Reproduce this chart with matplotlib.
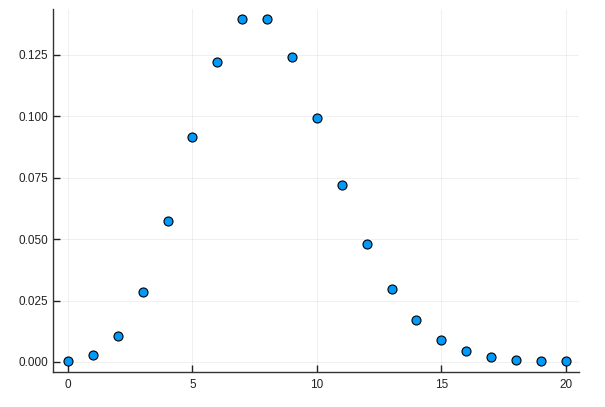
import numpy as np
import matplotlib.pyplot as plt

plt.rcParams['font.family'] = ['Liberation Sans', 'DejaVu Sans']

# values
x = list(range(0, 21))
y = [0.0003, 0.0027, 0.0107, 0.0286, 0.0573, 0.0916, 0.1221, 0.1396, 0.1396,
     0.1241, 0.0993, 0.0722, 0.0481, 0.0296, 0.0169, 0.0090, 0.0045, 0.0021,
     0.0009, 0.0004, 0.0002]
xticks = [0, 5, 10, 15, 20]
yticks = [0.000, 0.025, 0.050, 0.075, 0.100, 0.125]

fig = plt.figure(figsize=(6.05, 4.07), dpi=100)
ax = fig.add_axes([0.0876, 0.086, 0.869, 0.892])

ax.plot(x, y, 'o', color='#009AFA', markeredgecolor='black',
        markeredgewidth=0.8, markersize=6.5, zorder=3)

ax.set_xlim(-0.6, 20.52)
ax.set_ylim(-0.0041, 0.1437)
ax.set_xticks(xticks)
ax.set_yticks(yticks)
ax.set_yticklabels(['%.3f' % v for v in yticks])
ax.grid(True, color='black', alpha=0.06, linewidth=0.7)
ax.tick_params(direction='in', length=5, width=1, labelsize=8.5, colors='#222222')
ax.tick_params(axis='x', pad=5)
for s in ['top', 'right']:
    ax.spines[s].set_visible(False)
for s in ['left', 'bottom']:
    ax.spines[s].set_color('#333333')
    ax.spines[s].set_linewidth(1)

plt.savefig('out.png', dpi=100)
